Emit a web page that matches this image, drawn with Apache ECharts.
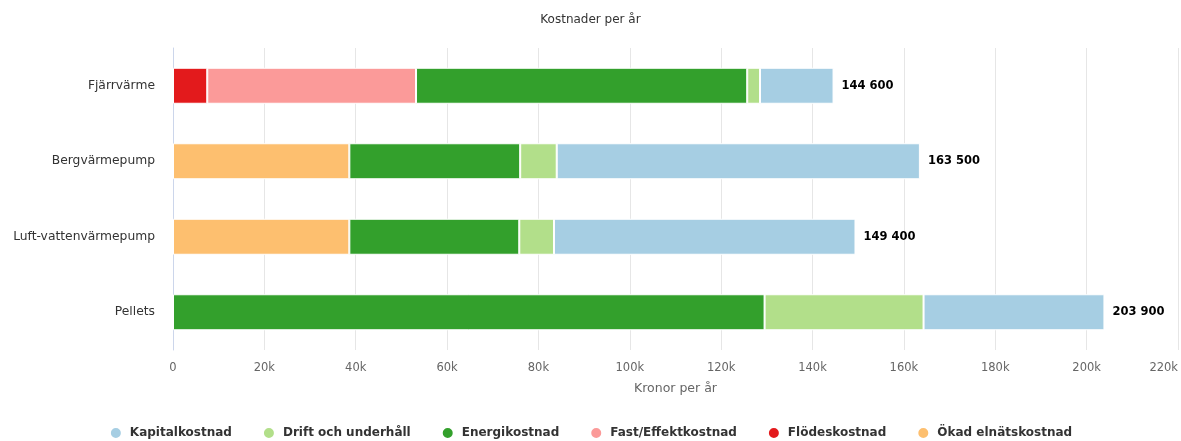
<!DOCTYPE html>
<html><head><meta charset="utf-8">
<script src="https://cdn.jsdelivr.net/npm/echarts@6/dist/echarts.min.js"></script>
<style>html,body{margin:0;padding:0;background:#fff}#c{width:1181px;height:441px}</style>
</head><body><div id="c"></div>
<script>
const categories = ['Fjärrvärme', 'Bergvärmepump', 'Luft-vattenvärmepump', 'Pellets'];
const flodeskostnad = [7500, 0, 0, 0];
const fastEffektkostnad = [45700, 0, 0, 0];
const okadElnatskostnad = [0, 38600, 38600, 0];
const energikostnad = [72500, 37400, 37200, 129500];
const driftUnderhall = [2800, 8000, 7600, 34800];
const kapitalkostnad = [16100, 79500, 66000, 39600];
const xTicks = { min: 0, max: 220000, interval: 20000 };
const legendOrder = ['Kapitalkostnad', 'Drift och underhåll', 'Energikostnad', 'Fast/Effektkostnad', 'Flödeskostnad', 'Ökad elnätskostnad'];

const seriesDefs = [
  ['Flödeskostnad', flodeskostnad, '#e31a1c'],
  ['Fast/Effektkostnad', fastEffektkostnad, '#fb9a99'],
  ['Ökad elnätskostnad', okadElnatskostnad, '#fdbf6f'],
  ['Energikostnad', energikostnad, '#33a02c'],
  ['Drift och underhåll', driftUnderhall, '#b2df8a'],
  ['Kapitalkostnad', kapitalkostnad, '#a6cee3']
];
const totals = categories.map((_, i) => seriesDefs.reduce((s, d) => s + d[1][i], 0));
const fmt = v => String(v).replace(/\B(?=(\d{3})+(?!\d))/g, ' ');
const font = 'DejaVu Sans';

const series = seriesDefs.map(([name, data, color], idx) => ({
  name, type: 'bar', stack: 'total', data: data.map(v => v === 0 ? null : v),
  barWidth: 36,
  itemStyle: { color, borderColor: '#fff', borderWidth: 1 },
  label: idx === seriesDefs.length - 1 ? {
    show: true, position: 'right', distance: 8,
    formatter: p => fmt(totals[p.dataIndex]),
    color: '#000', fontFamily: font, fontSize: 11.5, fontWeight: 'bold'
  } : { show: false },
  emphasis: { disabled: true }
}));

const chart = echarts.init(document.getElementById('c'));
chart.setOption({
  animation: false,
  textStyle: { fontFamily: font },
  title: { text: 'Kostnader per år', left: 'center', top: 9,
    textStyle: { fontFamily: font, fontSize: 12, fontWeight: 'normal', color: '#333' } },
  grid: { left: 173, right: 1, top: 48, bottom: 91, containLabel: false },
  xAxis: {
    type: 'value', min: xTicks.min, max: xTicks.max, interval: xTicks.interval,
    name: 'Kronor per år', nameLocation: 'middle', nameGap: 32,
    nameTextStyle: { color: '#666', fontSize: 12.5, fontFamily: font },
    axisLine: { show: false }, axisTick: { show: false },
    splitLine: { lineStyle: { color: '#e6e6e6' } },
    axisLabel: { color: '#666', fontSize: 11.5, margin: 12, alignMaxLabel: 'right',
      formatter: v => v === 0 ? '0' : (v / 1000) + 'k' }
  },
  yAxis: {
    type: 'category', data: categories, inverse: true,
    axisLine: { show: true, lineStyle: { color: '#ccd6eb' } },
    axisTick: { show: false },
    axisLabel: { color: '#333', fontSize: 12.3, margin: 18 }
  },
  legend: {
    data: legendOrder, bottom: 1, left: 'center', icon: 'circle', padding: 0,
    itemWidth: 12, itemHeight: 12, itemGap: 30,
    textStyle: { color: '#333', fontSize: 12, fontWeight: 'bold', fontFamily: font, padding: [0, 0, 0, 3] }
  },
  series
});
</script></body></html>
